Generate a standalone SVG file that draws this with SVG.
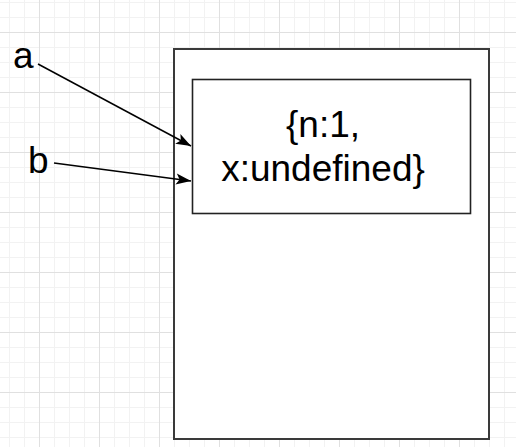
<svg xmlns="http://www.w3.org/2000/svg" width="516" height="447" viewBox="0 0 516 447">
  <style>
    .lbl { font-family: "Liberation Sans", Arial, sans-serif; font-size: 37px; fill: #000000; }
    .box { fill: #ffffff; }
    .edge { fill: none; stroke: #000000; stroke-width: 1.5; }
  </style>
  <defs>
    <pattern id="minor" x="9" y="2" width="15" height="15" patternUnits="userSpaceOnUse">
      <rect x="0" y="0" width="1" height="15" fill="#f2f2f2"/>
      <rect x="0" y="0" width="15" height="1" fill="#f2f2f2"/>
    </pattern>
    <pattern id="major" x="39" y="32" width="60" height="60" patternUnits="userSpaceOnUse">
      <rect x="0" y="0" width="1" height="60" fill="#e0e0e0"/>
      <rect x="0" y="0" width="60" height="1" fill="#e0e0e0"/>
    </pattern>
    <marker id="arrow" markerUnits="userSpaceOnUse" markerWidth="17" markerHeight="13" viewBox="0 0 17 13" refX="16" refY="6.5" orient="auto">
      <path d="M1,1 L16,6.5 L1,12 L4.5,6.5 Z" fill="#000000"/>
    </marker>
  </defs>

  <rect x="0" y="0" width="516" height="447" fill="#ffffff"/>
  <rect x="0" y="0" width="516" height="447" fill="url(#minor)"/>
  <rect x="0" y="0" width="516" height="447" fill="url(#major)"/>

  <g id="outer">
    <rect class="box" x="174" y="49" width="315" height="390" stroke="#3a3a3a" stroke-width="2"/>
  </g>

  <g id="object">
    <rect class="box" x="192.5" y="79.5" width="278" height="134" stroke="#222222" stroke-width="1.6"/>
    <text class="lbl" x="323" y="137" text-anchor="middle">{n:1,</text>
    <text class="lbl" x="323" y="181" text-anchor="middle">x:undefined}</text>
  </g>

  <g id="label-a">
    <text class="lbl" x="13" y="68">a</text>
  </g>

  <g id="label-b">
    <text class="lbl" x="28" y="173">b</text>
  </g>

  <g id="connectors">
    <path class="edge" d="M38,64 L191,146" marker-end="url(#arrow)"/>
    <path class="edge" d="M54,163 L191,181" marker-end="url(#arrow)"/>
  </g>
</svg>
